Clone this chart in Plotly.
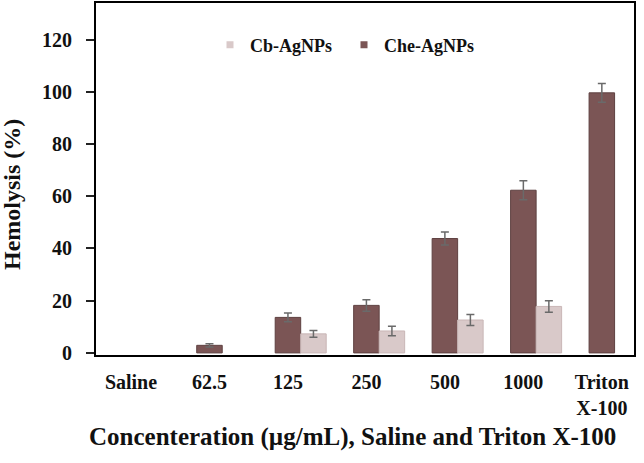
import plotly.graph_objects as go

categories = ["Saline", "62.5", "125", "250", "500", "1000", "Triton<br>X-100"]
che_values = [None, 2.9, 13.6, 18.2, 43.8, 62.3, 99.6]
che_errors = [0, 0.6, 1.7, 2.2, 2.5, 3.6, 3.6]
cb_values = [None, None, 7.3, 8.4, 12.6, 17.8, None]
cb_errors = [0, 0, 1.3, 1.8, 2.1, 2.2, 0]

CHE_COLOR = "#7b5555"
CB_COLOR = "#d9c9c9"
FONT = "Liberation Serif"
BAR_W = 0.325

fig = go.Figure()

fig.add_trace(go.Bar(
    x=categories, y=che_values, name="Che-AgNPs",
    width=BAR_W, offset=-BAR_W / 2,
    marker=dict(color=CHE_COLOR, line=dict(color="#5e4040", width=1)),
    error_y=dict(type="data", array=che_errors, visible=True,
                 color="#6a6a6a", thickness=1.5, width=4),
    showlegend=False,
))
fig.add_trace(go.Bar(
    x=categories, y=cb_values, name="Cb-AgNPs",
    width=BAR_W, offset=BAR_W / 2,
    marker=dict(color=CB_COLOR, line=dict(color="#c9b6b6", width=1)),
    error_y=dict(type="data", array=cb_errors, visible=True,
                 color="#6a6a6a", thickness=1.5, width=4),
    showlegend=False,
))

# legend-only markers (small squares like the original)
for name, col in [("Cb-AgNPs", CB_COLOR), ("Che-AgNPs", CHE_COLOR)]:
    fig.add_trace(go.Scatter(
        x=[None], y=[None], mode="markers", name=name,
        marker=dict(symbol="square", size=7, color=col),
    ))

fig.update_layout(
    width=644, height=463,
    margin=dict(l=96, r=10, t=3, b=108),
    plot_bgcolor="white", paper_bgcolor="white",
    barmode="overlay",
    font=dict(family=FONT, color="#111111"),
    legend=dict(
        orientation="h", x=(210 - 96) / 538, y=(355 - 45) / 352,
        xanchor="left", yanchor="middle",
        font=dict(size=18, family=FONT, color="#111111", weight="bold"),
        bgcolor="rgba(0,0,0,0)", entrywidth=89, entrywidthmode="pixels",
    ),
    annotations=[
        dict(text="<b>Concenteration (µg/mL), Saline and Triton X-100</b>",
             xref="paper", yref="paper", x=(352 - 96) / 538, y=(355 - 437) / 352,
             xanchor="center", yanchor="middle", showarrow=False,
             font=dict(size=25, family=FONT, color="#111111")),
        dict(text="<b>Hemolysis (%)</b>", textangle=-90,
             xref="paper", yref="paper", x=(12 - 96) / 538, y=(355 - 195) / 352,
             xanchor="center", yanchor="middle", showarrow=False,
             font=dict(size=24, family=FONT, color="#111111")),
    ],
)

fig.update_xaxes(
    range=[-0.446, 6.41], showline=True, linecolor="black", linewidth=2,
    mirror=True, ticks="", showgrid=False, zeroline=False, automargin=False,
    tickfont=dict(size=20, family=FONT, color="#111111", weight="bold"),
    ticklabelstandoff=8,
)
fig.update_yaxes(
    range=[-0.8, 134], tickvals=[0, 20, 40, 60, 80, 100, 120],
    showline=True, linecolor="black", linewidth=2, mirror=True,
    ticks="outside", ticklen=8, tickwidth=1.5, tickcolor="#222222",
    showgrid=False, zeroline=False, automargin=False,
    tickfont=dict(size=20, family=FONT, color="#111111", weight="bold"),
    ticklabelstandoff=10,
)

# page body has a default 8px margin; remove it so the figure fills the window
fig.write_html("out.html", config={"displayModeBar": False},
               post_script="document.body.style.margin='0';")
